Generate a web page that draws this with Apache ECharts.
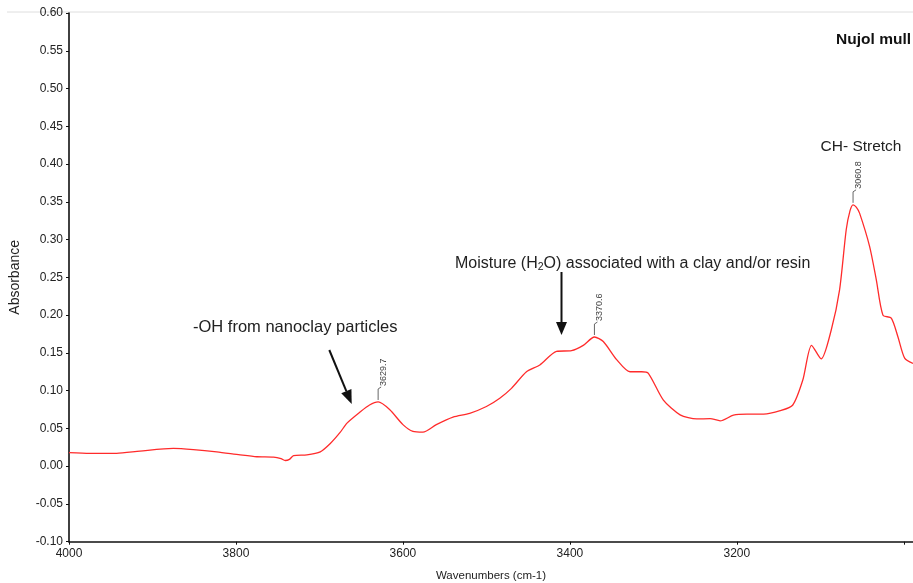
<!DOCTYPE html>
<html><head><meta charset="utf-8">
<script src="https://cdn.jsdelivr.net/npm/echarts@6/dist/echarts.min.js"></script>
<style>html,body{margin:0;padding:0;background:#fff}#c{width:913px;height:583px}</style>
</head><body><div id="c"></div>
<script>
// ---- data ----
const wavenumbers = [4000, 3975, 3943, 3915, 3875, 3851, 3823, 3795, 3775, 3755, 3746, 3741, 3736, 3731, 3715, 3699, 3687, 3675, 3667, 3651, 3640, 3629.7, 3616, 3600, 3588, 3576, 3560, 3540, 3520, 3500, 3484, 3470, 3452, 3436, 3416, 3398, 3384, 3370.6, 3360, 3344, 3328, 3314, 3306, 3288, 3268, 3248, 3232, 3220, 3204, 3188, 3168, 3148, 3133, 3121, 3110.5, 3099, 3087, 3077, 3069, 3064.5, 3060.8, 3057, 3053, 3041, 3033, 3025, 3015, 3007, 2999, 2989];
const absorbance  = [0.018, 0.017, 0.017, 0.020, 0.0235, 0.022, 0.019, 0.015, 0.0125, 0.012, 0.010, 0.0075, 0.009, 0.014, 0.015, 0.019, 0.030, 0.045, 0.057, 0.072, 0.081, 0.085, 0.075, 0.055, 0.046, 0.045, 0.055, 0.065, 0.070, 0.079, 0.090, 0.103, 0.125, 0.134, 0.152, 0.153, 0.160, 0.171, 0.165, 0.141, 0.125, 0.125, 0.123, 0.0875, 0.068, 0.0625, 0.063, 0.060, 0.0676, 0.069, 0.069, 0.0735, 0.081, 0.114, 0.160, 0.142, 0.180, 0.233, 0.313, 0.338, 0.346, 0.343, 0.335, 0.291, 0.247, 0.200, 0.196, 0.171, 0.143, 0.136];
const peakWavenumbers = [3629.7, 3370.6, 3060.8];
const peakAbsorbance  = [0.085, 0.171, 0.346];
const peakLabels      = ['3629.7', '3370.6', '3060.8'];
const xLabelValues = [3200, 3400, 3600, 3800, 4000];
const xTickValues  = [3000, 3200, 3400, 3600, 3800, 4000];
const yMin = -0.10, yMax = 0.60, yStep = 0.05;
const xMin = 2989, xMax = 4000;

const chart = echarts.init(document.getElementById('c'), null, {renderer: 'canvas'});
const FONT = '"Liberation Sans", Arial, Helvetica, sans-serif';

const lineData = wavenumbers.map((w, i) => [w, absorbance[i]]);
const peakData = peakWavenumbers.map((w, i) => [w, peakAbsorbance[i], i]);

function arrow(x1, y1, x2, y2, headLen, headHalf) {
  const dx = x2 - x1, dy = y2 - y1, L = Math.hypot(dx, dy);
  const ux = dx / L, uy = dy / L, px = -uy, py = ux;
  const bx = x2 - ux * headLen, by = y2 - uy * headLen;
  return [
    {type: 'line', shape: {x1: x1, y1: y1, x2: bx, y2: by}, style: {stroke: '#111', lineWidth: 2}},
    {type: 'polygon', shape: {points: [[x2, y2], [bx + px * headHalf, by + py * headHalf], [bx - px * headHalf, by - py * headHalf]]}, style: {fill: '#111'}}
  ];
}

chart.setOption({
  animation: false,
  backgroundColor: '#fff',
  grid: {left: 69, right: 0, top: 13, bottom: 41.3, containLabel: false, outerBoundsMode: 'none'},
  xAxis: {
    type: 'value', inverse: true, min: xMin, max: xMax,
    name: 'Wavenumbers (cm-1)', nameLocation: 'middle', nameGap: 28,
    nameTextStyle: {fontFamily: FONT, fontSize: 11.5, color: '#222'},
    axisLine: {show: true, onZero: false, lineStyle: {color: '#111', width: 1.6}},
    axisTick: {show: true, inside: false, length: 3, customValues: xTickValues, lineStyle: {color: '#111', width: 1}},
    axisLabel: {customValues: xLabelValues, fontFamily: FONT, fontSize: 12, color: '#222', margin: 6, formatter: v => String(v)},
    splitLine: {show: false}
  },
  yAxis: {
    type: 'value', min: yMin, max: yMax, interval: yStep,
    name: 'Absorbance', nameLocation: 'middle', nameGap: 47,
    nameTextStyle: {fontFamily: FONT, fontSize: 14, color: '#222'},
    axisLine: {show: true, onZero: false, lineStyle: {color: '#111', width: 1.6}},
    axisTick: {show: true, inside: false, length: 3, lineStyle: {color: '#111', width: 1}},
    axisLabel: {fontFamily: FONT, fontSize: 12, color: '#222', margin: 6, formatter: v => v.toFixed(2)},
    splitLine: {show: false}
  },
  series: [
    {
      type: 'line', data: lineData, showSymbol: false, symbol: 'none',
      smooth: 0.25,
      lineStyle: {color: '#ff2b2b', width: 1.3}
    },
    {
      type: 'custom', data: peakData, z: 5,
      renderItem: function (params, api) {
        const p = api.coord([api.value(0), api.value(1)]);
        const x = p[0], y = p[1];
        return {
          type: 'group',
          children: [
            {type: 'polyline', shape: {points: [[x, y - 2], [x, y - 13], [x + 3, y - 15]]}, style: {stroke: '#666', lineWidth: 1, fill: null}},
            {type: 'text', x: x + 5, y: y - 16, rotation: Math.PI / 2,
             style: {text: peakLabels[params.dataIndex], align: 'left', verticalAlign: 'middle', fontFamily: FONT, fontSize: 9, fill: '#444'}}
          ]
        };
      }
    }
  ],
  graphic: [
    {type: 'line', shape: {x1: 7, y1: 12, x2: 913, y2: 12}, style: {stroke: '#dedede', lineWidth: 1}, z: 0},
    {type: 'text', x: 911, y: 40, style: {text: 'Nujol mull', align: 'right', verticalAlign: 'middle', fontFamily: FONT, fontWeight: 'bold', fontSize: 15.5, fill: '#111'}},
    {type: 'text', x: 861, y: 147, style: {text: 'CH- Stretch', align: 'center', verticalAlign: 'middle', fontFamily: FONT, fontSize: 15.5, fill: '#222'}},
    {type: 'text', x: 455, y: 264, style: {
      text: 'Moisture (H{sub|2}O) associated with a clay and/or resin', align: 'left', verticalAlign: 'middle',
      fontFamily: FONT, fontSize: 16, fill: '#222',
      rich: {sub: {fontFamily: FONT, fontSize: 10.5, fill: '#222', padding: [7, 0, 0, 0]}}
    }},
    {type: 'text', x: 193, y: 327, style: {text: '-OH from nanoclay particles', align: 'left', verticalAlign: 'middle', fontFamily: FONT, fontSize: 16.5, fill: '#222'}},
    ...arrow(561.5, 272, 561.5, 335, 13, 5.5),
    ...arrow(329.3, 350, 351.7, 404, 14, 5.5)
  ]
});
</script>
</body></html>
